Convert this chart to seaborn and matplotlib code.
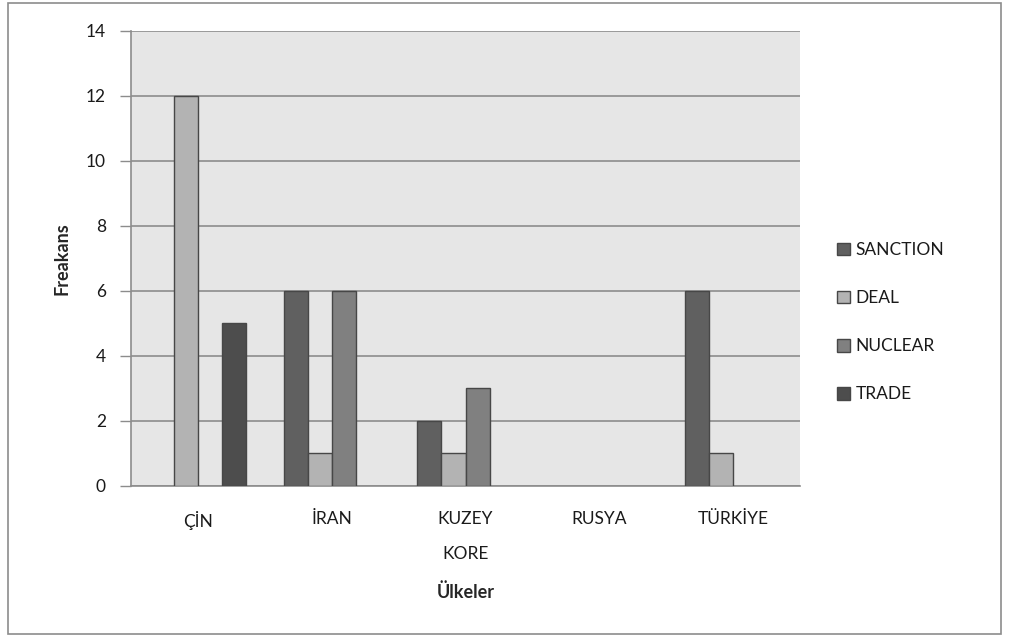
import numpy as np
import pandas as pd
import matplotlib
matplotlib.use('Agg')
import matplotlib.pyplot as plt
from matplotlib.patches import Rectangle, Patch
import seaborn as sns

countries = ['ÇİN', 'İRAN', 'KUZEY\nKORE', 'RUSYA', 'TÜRKİYE']
terms = ['SANCTION', 'DEAL', 'NUCLEAR', 'TRADE']
sanction = [0, 6, 2, 0, 6]
deal = [12, 1, 1, 0, 1]
nuclear = [0, 6, 3, 0, 0]
trade = [5, 0, 0, 0, 0]
colors = ['#606060', '#b3b3b3', '#808080', '#4d4d4d']


def build_frame():
    rows = []
    for term, vals in zip(terms, [sanction, deal, nuclear, trade]):
        for c, v in zip(countries, vals):
            rows.append({'Ülkeler': c, 'term': term, 'Freakans': v})
    return pd.DataFrame(rows)


def plot_chart(df):
    sns.set_style('white')
    plt.rcParams['font.family'] = ['Lato', 'DejaVu Sans']
    plt.rcParams['text.color'] = '#1a1a1a'

    fig = plt.figure(figsize=(10.09, 6.43), dpi=100)
    ax = fig.add_axes([0.1298, 0.2442, 0.6631, 0.7076])
    ax.set_facecolor('#e6e6e6')

    sns.barplot(data=df, x='Ülkeler', y='Freakans', hue='term', hue_order=terms,
                palette=colors, width=0.72, saturation=1, edgecolor='#474747',
                linewidth=1.0, ax=ax, zorder=3, legend=False)
    # drop empty bars so no stray edge line sits on the baseline
    for p in list(ax.patches):
        if p.get_height() == 0:
            p.set_visible(False)

    ax.set_ylim(0, 14)
    ax.set_xlim(-0.5, 4.5)
    ax.set_yticks(range(0, 15, 2))
    ax.yaxis.grid(True, color='#8c8c8c', linewidth=1.2, zorder=0)
    ax.set_axisbelow(True)

    ax.set_xticks(range(5))
    ax.set_xticklabels(countries, fontsize=12.5, linespacing=2.5, color='#1a1a1a')
    ax.set_xticks(np.arange(-0.5, 5.0, 1.0), minor=True)
    ax.tick_params(axis='x', which='major', length=0, pad=18)
    ax.tick_params(axis='x', which='minor', length=6, width=1, color='#8c8c8c',
                   direction='out')
    ax.tick_params(axis='y', length=8, width=1, color='#8c8c8c', labelsize=12.5,
                   labelcolor='#1a1a1a', pad=10, direction='out', left=True)

    for side in ['top', 'right']:
        ax.spines[side].set_visible(False)
    for side in ['left', 'bottom']:
        ax.spines[side].set_color('#8c8c8c')
        ax.spines[side].set_linewidth(1.2)

    ax.set_xlabel('Ülkeler', fontsize=13, fontweight='bold', labelpad=15)
    ax.set_ylabel('Freakans', fontsize=13, fontweight='bold', labelpad=11)

    handles = [Patch(facecolor=c, edgecolor='#474747', label=t)
               for c, t in zip(colors, terms)]
    ax.legend(handles=handles, loc='center left', bbox_to_anchor=(1.045, 0.36),
              frameon=False, fontsize=12.5, handlelength=0.75, handleheight=0.75,
              handletextpad=0.3, labelspacing=1.85, borderaxespad=0)

    fig.patches.append(Rectangle((8 / 1009, 1 - 634 / 643), 993 / 1009, 631 / 643,
                                 transform=fig.transFigure, fill=False,
                                 edgecolor='#8c8c8c', linewidth=1.2))
    fig.savefig('out.png', dpi=100)


if __name__ == '__main__':
    plot_chart(build_frame())
